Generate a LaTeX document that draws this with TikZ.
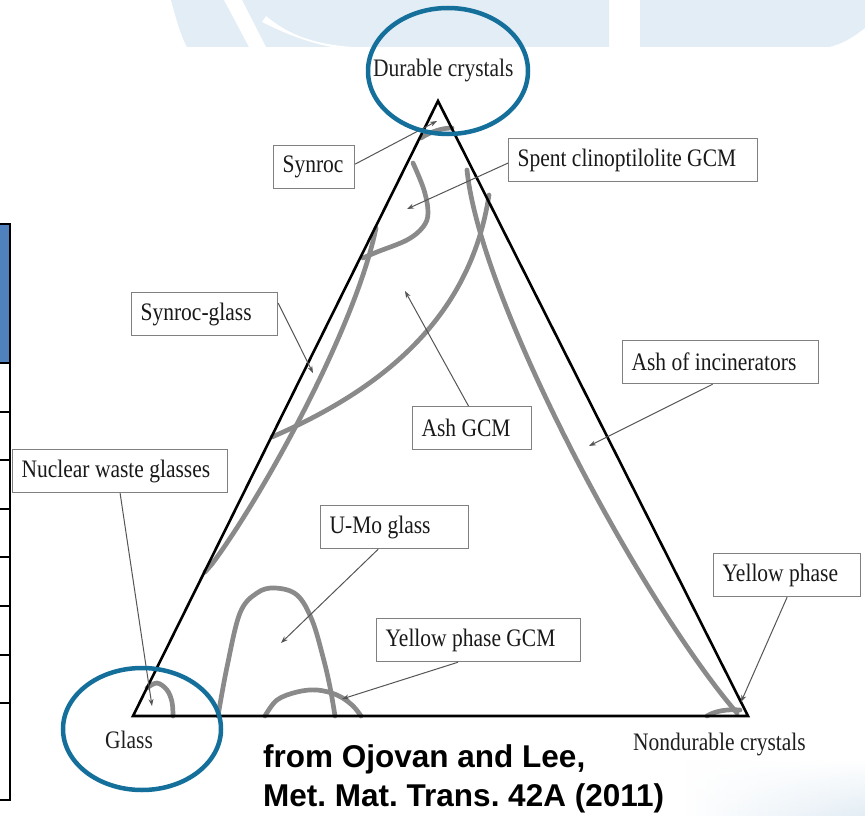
\documentclass[tikz,border=0pt]{standalone}
\usepackage{fontspec}
\usepackage{graphicx}
\setmainfont{Liberation Serif}
\newfontfamily\citefont{Liberation Sans}
\usetikzlibrary{arrows.meta,calc,fadings}
\frenchspacing

\definecolor{ringblue}{RGB}{20,112,155}
\definecolor{zonegray}{RGB}{138,138,138}
\definecolor{framegray}{RGB}{128,128,128}
\definecolor{leadgray}{RGB}{85,85,85}
\definecolor{washblue}{RGB}{227,237,245}
\definecolor{headblue}{RGB}{79,129,189}

% narrow, tall lettering of the labels
\newcommand{\tallword}[1]{\scalebox{1}[1.17]{#1}}
% label text set flush left inside a box of given inner width
\newcommand{\boxtext}[2]{\makebox[#1][l]{\tallword{#2}}}

\begin{document}
\begin{tikzpicture}[x=1pt,y=-1pt,
  edge/.style={line width=2.6pt, line join=miter},
  zone/.style={draw=zonegray, line width=4.7pt, line cap=round},
  labelbox/.style={draw=framegray, line width=1.2pt, fill=white, anchor=north west,
    inner xsep=9pt, inner ysep=0pt, minimum height=43pt,
    font=\fontsize{21.5}{24}\selectfont, text=black!90},
  leader/.style={draw=leadgray, line width=1pt, -{Stealth[length=7pt,width=5pt]}},
  ring/.style={draw=ringblue, line width=4.5pt},
  corner/.style={font=\fontsize{21.5}{24}\selectfont, text=black!88, inner sep=0pt, anchor=base west},
  cite/.style={font=\citefont\bfseries\fontsize{31.5}{38}\selectfont, inner sep=0pt, anchor=base west},
]
\useasboundingbox (0,0) rectangle (865,816);
\fill[white] (0,0) rectangle (865,816);

% faint background artwork along the top edge
\fill[washblue] (171,0) .. controls (177,22) and (181,36) .. (187,47) -- (609,47) -- (609,0) -- cycle;
\fill[white] (224,0) -- (242,0) -- (266,47) -- (249,47) -- cycle;
\fill[white] (266,16) .. controls (290,36) and (315,44) .. (352,47) -- (332,47)
  .. controls (305,42) and (282,32) .. (262,22) -- cycle;
\fill[washblue] (640,0) -- (865,0) -- (865,28) .. controls (852,38) and (842,44) .. (829,47) -- (640,47) -- cycle;
% soft wash in the lower right corner
\shade[left color=white, right color=washblue, path fading=north] (680,760) rectangle (865,816);

% edge of a neighbouring table
\fill[headblue] (0,224) rectangle (10,363);
\foreach \yy in {224,363,412,460,509,557,606,655,703,800}
  \draw[line width=1.4pt] (0,\yy) -- (10,\yy);
\draw[line width=1.8pt] (10,223) -- (10,801);

% corners of the diagram
\coordinate (G) at (133,716);
\coordinate (D) at (438,101);
\coordinate (N) at (748,716);

% composition regions
\draw[zone] (421,138) .. controls (430,132) and (442,128) .. (452,128);
\draw[zone] plot[smooth, tension=0.6] coordinates {(413,163) (424,190) (428,213) (423,227) (407,240) (377,252) (363,258)};
\draw[zone] (376,228) .. controls (355,330) and (260,500) .. (212,564) -- (205,572);
\draw[zone] (489,195) .. controls (470,320) and (380,390) .. (272,437);
\draw[zone] (467,170) .. controls (480,300) and (640,600) .. (737,713);
\draw[zone] (707,716) .. controls (715,711) and (727,709) .. (740,710);
\draw[zone] plot[smooth, tension=0.6] coordinates {(218,716) (227,667) (240,613) (257,593) (275,588) (297,595) (312,620) (323,657) (330,687) (335,716)};
\draw[zone] plot[smooth, tension=0.6] coordinates {(265,716) (277,700) (297,692) (317,690) (337,695) (352,705) (361,716)};
\draw[zone] plot[smooth, tension=0.6] coordinates {(147,688) (157,683) (167,690) (172,702) (173,716)};

% the ternary triangle
\draw[edge] (G) -- (D) -- (N) -- cycle;

% corner labels
\node[corner] (lblD) at (373,77) {\tallword{Durable crystals}};
\node[corner] (lblG) at (105,748) {\tallword{Glass}};
\node[corner] (lblN) at (633,750) {\tallword{Nondurable crystals}};

% labelled boxes
\node[labelbox] (synroc) at (273,145) {\boxtext{63pt}{Synroc}};
\node[labelbox] (spent) at (508,138) {\boxtext{231pt}{Spent clinoptilolite GCM}};
\node[labelbox] (synglass) at (131,292) {\boxtext{128pt}{Synroc-glass}};
\node[labelbox] (ashinc) at (622,340) {\boxtext{178pt}{Ash of incinerators}};
\node[labelbox] (ashgcm) at (412,406) {\boxtext{101pt}{Ash GCM}};
\node[labelbox] (nuclear) at (12,449) {\boxtext{197pt}{Nuclear waste glasses}};
\node[labelbox] (umo) at (320,505) {\boxtext{130pt}{U-Mo glass}};
\node[labelbox] (ypgcm) at (376,618) {\boxtext{186pt}{Yellow phase GCM}};
\node[labelbox] (yp) at (713,553) {\boxtext{129pt}{Yellow phase}};

% leader targets
\coordinate (tSynroc) at (437,121);
\coordinate (tSpent) at (407,209);
\coordinate (tSynglass) at (313,373);
\coordinate (tAshgcm) at (405,291);
\coordinate (tAshinc) at (589,446);
\coordinate (tNuclear) at (152,706);
\coordinate (tUmo) at (281,643);
\coordinate (tYpgcm) at (342,699);
\coordinate (tYp) at (741,702);

\draw[leader] ([yshift=3pt]synroc.east) -- (tSynroc);
\draw[leader] ([yshift=-3pt]spent.west) -- (tSpent);
\draw[leader] ($(synglass.north east)!0.25!(synglass.south east)$) -- (tSynglass);
\draw[leader] ($(ashgcm.north west)!0.47!(ashgcm.north east)$) -- (tAshgcm);
\draw[leader] ($(ashinc.south west)!0.46!(ashinc.south east)$) -- (tAshinc);
\draw[leader] (nuclear.south) -- (tNuclear);
\draw[leader] ($(umo.south west)!0.39!(umo.south east)$) -- (tUmo);
\draw[leader] ($(ypgcm.south west)!0.40!(ypgcm.south east)$) -- (tYpgcm);
\draw[leader] (yp.south) -- (tYp);

% highlight rings
\draw[ring] (448,71) ellipse [x radius=80, y radius=63];
\draw[ring] (142,729) ellipse [x radius=79, y radius=61];

% source note
\node[cite] (src1) at (263,767) {from Ojovan and Lee,};
\node[cite] (src2) at (263,806) {Met. Mat. Trans. 42A (2011)};
\end{tikzpicture}
\end{document}
